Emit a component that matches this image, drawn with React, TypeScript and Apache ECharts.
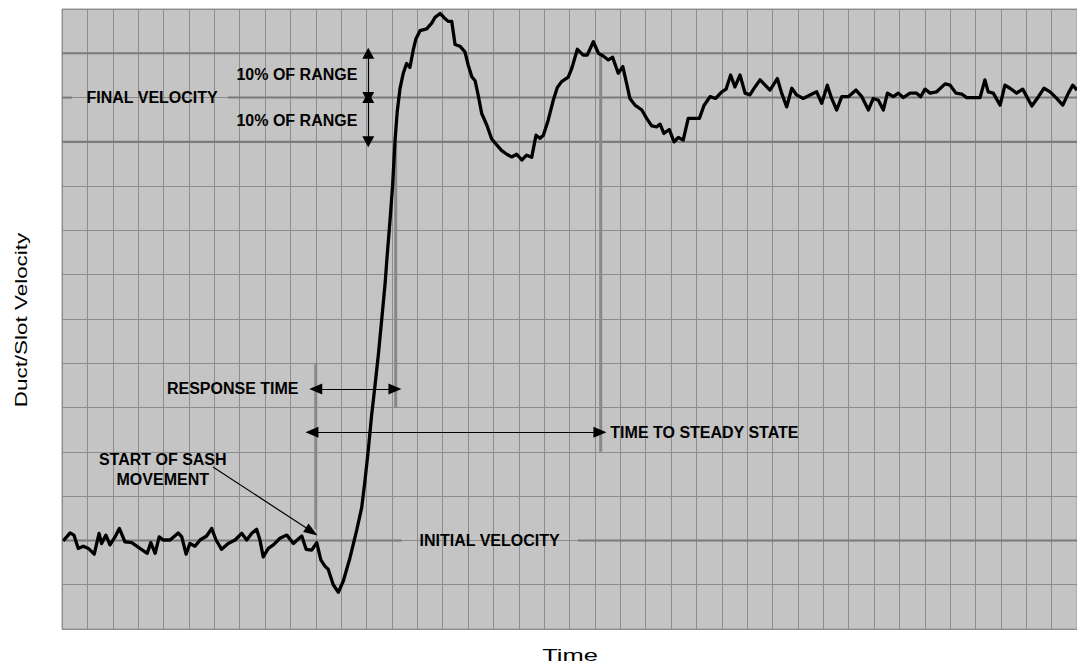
import React, { useEffect, useRef } from "react";
import * as echarts from "echarts";

// Axis extents in grid units (40 columns x 14 rows)
const xExtent = [0, 40];
const yExtent = [0, 14];

// Reference levels
const upperBand = 13;
const finalVelocity = 12;
const lowerBand = 11;
const initialVelocity = 2;

// Gaps where labels interrupt reference lines [from, to]
const finalLineSegments = [[0, 0.39], [6.54, 40]];
const initialLineSegments = [[0, 13.39], [20.33, 40]];

// Gray vertical markers [x, yTop, yBottom]
const markers = [
  [10.0, 6.0, 2.25],
  [13.15, 11.0, 5.0],
  [21.23, 12.95, 4.0],
];

// Measured velocity trace [time, velocity]
const velocityTrace = [
  [0.05, 1.99], [0.32, 2.17], [0.47, 2.12], [0.64, 1.82], [0.84, 1.87], [1.04, 1.82],
  [1.27, 1.69], [1.46, 2.16], [1.56, 1.93], [1.73, 2.12], [1.89, 1.9], [2.09, 2.08],
  [2.26, 2.27], [2.48, 1.97], [2.75, 1.95], [3.07, 1.82], [3.36, 1.71], [3.5, 1.95],
  [3.67, 1.71], [3.83, 2.08], [3.99, 2.01], [4.26, 2.01], [4.58, 2.17], [4.72, 2.08],
  [4.89, 1.69], [5.04, 1.93], [5.24, 1.87], [5.44, 2.01], [5.7, 2.1], [5.9, 2.27],
  [6.07, 2.01], [6.29, 1.8], [6.55, 1.93], [6.82, 2.01], [7.08, 2.16], [7.28, 2.01],
  [7.48, 2.16], [7.67, 2.25], [7.8, 2.01], [7.93, 1.63], [8.13, 1.82], [8.33, 1.9],
  [8.59, 2.05], [8.86, 2.12], [9.12, 1.93], [9.27, 2.01], [9.45, 2.1], [9.62, 1.8],
  [9.84, 1.78], [10.04, 1.95], [10.2, 1.56], [10.36, 1.42], [10.49, 1.35], [10.69, 1.0],
  [10.89, 0.83], [11.09, 1.09], [11.35, 1.61], [11.61, 2.22], [11.81, 2.74], [11.94, 3.35],
  [12.07, 4.04], [12.2, 4.82], [12.34, 5.52], [12.47, 6.21], [12.6, 6.99], [12.73, 7.78],
  [12.82, 8.47], [12.93, 9.25], [13.03, 10.03], [13.12, 10.99], [13.21, 11.68], [13.32, 12.2],
  [13.45, 12.55], [13.58, 12.77], [13.71, 12.68], [13.84, 13.07], [13.95, 13.33], [14.11, 13.51],
  [14.37, 13.55], [14.57, 13.68], [14.7, 13.81], [14.9, 13.9], [15.05, 13.81], [15.22, 13.72],
  [15.36, 13.72], [15.49, 13.2], [15.68, 13.16], [15.88, 13.03], [16.01, 12.73], [16.15, 12.47],
  [16.28, 12.38], [16.41, 12.03], [16.54, 11.64], [16.74, 11.38], [16.93, 11.07], [17.13, 10.93],
  [17.33, 10.8], [17.53, 10.72], [17.72, 10.66], [17.92, 10.72], [18.12, 10.59], [18.31, 10.7],
  [18.51, 10.65], [18.68, 11.15], [18.84, 11.08], [18.97, 11.15], [19.16, 11.49], [19.36, 11.94],
  [19.52, 12.23], [19.69, 12.36], [19.95, 12.46], [20.09, 12.66], [20.31, 13.09], [20.54, 12.96],
  [20.7, 12.96], [20.94, 13.26], [21.14, 13.0], [21.33, 12.94], [21.53, 12.85], [21.7, 12.91],
  [21.92, 12.55], [22.1, 12.7], [22.25, 12.32], [22.38, 11.98], [22.58, 11.83], [22.85, 11.72],
  [23.04, 11.53], [23.24, 11.36], [23.44, 11.34], [23.57, 11.4], [23.72, 11.19], [23.93, 11.28],
  [24.12, 11.0], [24.29, 11.1], [24.48, 11.04], [24.68, 11.53], [24.88, 11.53], [25.12, 11.53],
  [25.3, 11.82], [25.54, 12.02], [25.76, 11.98], [26.0, 12.13], [26.17, 12.19], [26.35, 12.51],
  [26.52, 12.24], [26.72, 12.51], [26.92, 12.1], [27.11, 12.06], [27.31, 12.24], [27.51, 12.4],
  [27.71, 12.28], [27.9, 12.17], [28.19, 12.43], [28.36, 12.1], [28.56, 11.79], [28.76, 12.21],
  [28.95, 12.06], [29.21, 11.98], [29.48, 12.06], [29.74, 12.13], [29.94, 11.87], [30.16, 12.28],
  [30.33, 11.98], [30.53, 11.72], [30.73, 12.02], [30.99, 12.02], [31.29, 12.17], [31.52, 12.02],
  [31.78, 11.72], [31.97, 11.98], [32.17, 11.94], [32.37, 11.72], [32.53, 12.1], [32.76, 12.02],
  [32.96, 12.1], [33.15, 12.0], [33.42, 12.1], [33.68, 12.1], [33.84, 12.02], [34.01, 12.19],
  [34.21, 12.1], [34.47, 12.13], [34.8, 12.31], [35.0, 12.28], [35.23, 12.1], [35.46, 12.08],
  [35.65, 12.0], [36.18, 12.0], [36.37, 12.4], [36.5, 12.13], [36.7, 12.1], [36.97, 11.83],
  [37.16, 12.28], [37.36, 12.21], [37.62, 12.1], [37.86, 12.19], [38.22, 11.81], [38.48, 12.02],
  [38.7, 12.21], [38.94, 12.13], [39.2, 11.98], [39.44, 11.83], [39.66, 12.1], [39.83, 12.28],
  [40.0, 12.17],
];

// Arrows [[x1, y1], [x2, y2]]
const responseArrow = [[10.0, 5.42], [13.12, 5.42]];
const steadyArrow = [[9.85, 4.44], [21.2, 4.44]];
const upperRangeArrow = [[12.07, 13], [12.07, 12]];
const lowerRangeArrow = [[12.07, 12], [12.07, 11]];
const sashPointer = [[5.95, 3.66], [9.84, 2.2]];

// Annotation texts [x, y, text, anchor]
const annotations = [
  [3.55, 12, "FINAL VELOCITY", "center"],
  [11.66, 12.51, "10% OF RANGE", "right"],
  [11.66, 11.49, "10% OF RANGE", "right"],
  [9.34, 5.42, "RESPONSE TIME", "right"],
  [21.59, 4.43, "TIME TO STEADY STATE", "left"],
  [3.97, 3.61, "START OF SASH\nMOVEMENT", "center"],
  [16.85, 2.0, "INITIAL VELOCITY", "center"],
];

const yTitle = "Duct/Slot Velocity";
const xTitle = "Time";

const refLine = (data: number[][], color = "#7a7a7a", width = 2) => ({
  type: "line",
  data,
  showSymbol: false,
  symbol: "none",
  silent: true,
  z: 2,
  lineStyle: { color, width },
});

export default function App() {
  const ref = useRef<HTMLDivElement>(null);
  useEffect(() => {
    if (!ref.current) return;
    const chart = echarts.init(ref.current, undefined, { renderer: "svg" });

    const series: any[] = [];
    series.push(refLine([[xExtent[0], upperBand], [xExtent[1], upperBand]]));
    series.push(refLine([[xExtent[0], lowerBand], [xExtent[1], lowerBand]]));
    finalLineSegments.forEach((s) =>
      series.push(refLine([[s[0], finalVelocity], [s[1], finalVelocity]]))
    );
    initialLineSegments.forEach((s) =>
      series.push(refLine([[s[0], initialVelocity], [s[1], initialVelocity]]))
    );
    markers.forEach((m) =>
      series.push(refLine([[m[0], m[1]], [m[0], m[2]]], "#888888", 3))
    );

    const arrow = (a: number[][], start: boolean, end: boolean, size: number[]) => [
      { coord: a[0], symbol: start ? "triangle" : "none", symbolSize: size },
      { coord: a[1], symbol: end ? "triangle" : "none", symbolSize: size },
    ];

    series.push({
      type: "line",
      data: velocityTrace,
      showSymbol: false,
      symbol: "none",
      silent: true,
      z: 5,
      lineStyle: { color: "#000", width: 3.3, join: "round" },
      markLine: {
        silent: true,
        animation: false,
        label: { show: false },
        lineStyle: { color: "#000", width: 1.2, type: "solid" },
        emphasis: { disabled: true },
        data: [
          arrow(responseArrow, true, true, [11, 13]),
          arrow(steadyArrow, true, true, [11, 13]),
          arrow(upperRangeArrow, true, true, [12, 11]),
          arrow(lowerRangeArrow, true, true, [12, 11]),
          arrow(sashPointer, false, true, [10, 14]),
        ],
      },
    });

    series.push({
      type: "scatter",
      silent: true,
      z: 6,
      symbolSize: 1,
      itemStyle: { color: "transparent" },
      data: annotations.map((a) => ({
        value: [a[0], a[1]],
        label: {
          show: true,
          formatter: a[2] as string,
          position: a[3] === "right" ? "left" : a[3] === "left" ? "right" : "inside",
          distance: 0,
          align: a[3] as string,
          verticalAlign: "middle",
          fontFamily: "Liberation Sans",
          fontWeight: "bold",
          fontSize: 16,
          lineHeight: 20,
          color: "#000",
          opacity: 1,
          textBorderWidth: 0,
        },
      })),
    });

    chart.setOption({
      animation: false,
      backgroundColor: "#ffffff",
      grid: {
        left: 62,
        top: 9,
        right: 0,
        bottom: 40,
        show: true,
        backgroundColor: "#c4c4c4",
        borderColor: "#9a9a9a",
        borderWidth: 1,
      },
      xAxis: {
        type: "value",
        min: xExtent[0],
        max: xExtent[1],
        interval: 1,
        axisLine: { show: false },
        axisTick: { show: false },
        axisLabel: { show: false },
        splitLine: { show: true, lineStyle: { color: "#8c8c8c", width: 1 } },
      },
      yAxis: {
        type: "value",
        min: yExtent[0],
        max: yExtent[1],
        interval: 1,
        axisLine: { show: false },
        axisTick: { show: false },
        axisLabel: { show: false },
        splitLine: { show: true, lineStyle: { color: "#8c8c8c", width: 1 } },
      },
      graphic: [
        {
          type: "text",
          x: 21,
          y: 320,
          rotation: Math.PI / 2,
          scaleX: 1.32,
          silent: true,
          style: {
            text: yTitle,
            font: '17px "Liberation Sans"',
            fill: "#000",
            align: "center",
            verticalAlign: "middle",
          },
        },
        {
          type: "text",
          x: 570,
          y: 655,
          scaleX: 1.5,
          silent: true,
          style: {
            text: xTitle,
            font: '17px "Liberation Sans"',
            fill: "#000",
            align: "center",
            verticalAlign: "middle",
          },
        },
      ],
      series,
    });
    return () => chart.dispose();
  }, []);
  return (
    <div
      ref={ref}
      style={{ position: "absolute", left: 0, top: 0, width: 1077, height: 669 }}
    />
  );
}
